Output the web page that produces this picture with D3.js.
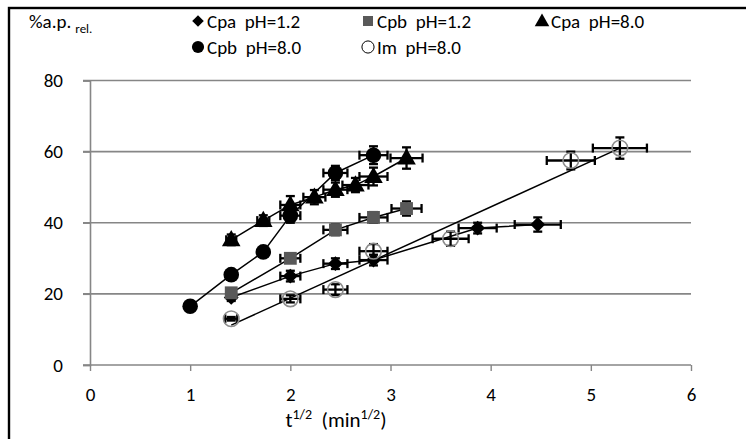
<!DOCTYPE html>
<html>
<head>
<meta charset="utf-8">
<script src="https://cdn.jsdelivr.net/npm/d3@7/dist/d3.min.js"></script>
<style>
  html, body { margin: 0; padding: 0; background: #fff; }
  svg text { font-family: Calibri, Carlito, Lato, sans-serif; fill: #000; }
</style>
</head>
<body>
<div id="chart"></div>
<script>
// values (x = t^1/2, y = %a.p. rel.)
var cpa12X = [1.41, 2.00, 2.45, 2.83, 3.87, 4.47];
var cpa12Y = [19.0, 25.0, 28.5, 29.5, 38.5, 39.5];
var cpa12Ex = [0, 0.10, 0.12, 0.14, 0.19, 0.23];
var cpa12Ey = [1.0, 1.5, 1.5, 1.5, 1.5, 2.0];

var cpb12X = [1.41, 2.00, 2.45, 2.83, 3.16];
var cpb12Y = [20.3, 30.0, 38.0, 41.5, 44.0];
var cpb12Ex = [0, 0.10, 0.12, 0.14, 0.15];
var cpb12Ey = [1.0, 1.0, 1.5, 1.5, 2.0];

var cpa80X = [1.41, 1.73, 2.00, 2.24, 2.45, 2.65, 2.83, 3.16];
var cpa80Y = [35.2, 40.6, 45.0, 47.2, 49.3, 50.6, 53.0, 58.2];
var cpa80Ex = [0.05, 0.06, 0.10, 0.11, 0.12, 0.13, 0.14, 0.16];
var cpa80Ey = [1.5, 1.5, 2.5, 2.0, 2.0, 2.0, 2.5, 3.0];

var cpb80X = [1.00, 1.41, 1.73, 2.00, 2.45, 2.83];
var cpb80Y = [16.5, 25.4, 31.8, 42.0, 54.0, 59.0];
var cpb80Ex = [0, 0, 0, 0.10, 0.12, 0.14];
var cpb80Ey = [0.5, 0.5, 0.5, 2.0, 2.0, 2.5];

var im80X = [1.41, 2.00, 2.45, 2.83, 3.60, 4.80, 5.29];
var im80Y = [13.0, 18.6, 21.2, 32.0, 35.5, 57.5, 61.0];
var im80Ex = [0.06, 0.10, 0.12, 0.14, 0.18, 0.24, 0.27];
var im80Ey = [0.5, 1.0, 1.5, 2.0, 2.0, 2.5, 3.0];
// the Im series is drawn with a single straight line
var im80LineX = [1.41, 5.29];
var im80LineY = [11.2, 61.0];

var xTicks = [0, 1, 2, 3, 4, 5, 6];
var yTicks = [0, 20, 40, 60, 80];

var legendLabels = ['Cpa\u00a0\u00a0pH=1.2', 'Cpb\u00a0\u00a0pH=1.2', 'Cpa\u00a0\u00a0pH=8.0',
		    'Cpb\u00a0\u00a0pH=8.0', 'Im\u00a0\u00a0pH=8.0'];

var W = 746, H = 439;
var FS = 19;

var svg = d3.select('#chart').append('svg')
    .attr('width', W)
    .attr('height', H);

// outer frame, cut off by the right and bottom edge
svg.append('rect')
    .attr('x', 9)
    .attr('y', 8)
    .attr('width', W)
    .attr('height', H)
    .attr('fill', 'none')
    .attr('stroke', '#000')
    .attr('stroke-width', 2.4);

var x = d3.scaleLinear().domain([0, 6]).range([90, 691]);
var y = d3.scaleLinear().domain([0, 80]).range([365, 80.5]);

// gridlines
svg.append('g').selectAll('line')
    .data(yTicks.filter(function(d) { return d > 0; }))
    .enter().append('line')
    .attr('x1', x(0) - 7)
    .attr('x2', x(6))
    .attr('y1', function(d) { return y(d); })
    .attr('y2', function(d) { return y(d); })
    .attr('stroke', '#868686')
    .attr('stroke-width', 1.6);

// axes
var yAxis = d3.axisLeft(y).tickValues(yTicks).tickSize(7).tickPadding(20);
var gy = svg.append('g')
    .attr('transform', 'translate(' + x(0) + ',0)')
    .call(yAxis);

var xAxis = d3.axisBottom(x).tickValues(xTicks).tickFormat(d3.format('d'))
    .tickSize(6).tickPadding(17);
var gx = svg.append('g')
    .attr('transform', 'translate(0,' + y(0) + ')')
    .call(xAxis);

[gx, gy].forEach(function(g) {
    g.select('.domain').attr('stroke', '#868686').attr('stroke-width', 1.6);
    g.selectAll('.tick line').attr('stroke', '#868686').attr('stroke-width', 1.4);
    g.selectAll('.tick text')
	.attr('font-size', FS)
	.attr('font-family', 'Calibri, Carlito, Lato, sans-serif')
	.attr('fill', '#000');
});
gx.select('.domain').attr('d', 'M' + (x(0) - 7) + ',0H' + x(6));

// axis titles
var xt = svg.append('text')
    .attr('x', 336)
    .attr('y', 427)
    .attr('text-anchor', 'middle')
    .attr('font-size', 21);
xt.append('tspan').text('t');
xt.append('tspan').attr('font-size', 14).attr('dy', -8).text('1/2');
xt.append('tspan').attr('dy', 8).text('\u00a0\u00a0(min');
xt.append('tspan').attr('font-size', 14).attr('dy', -8).text('1/2');
xt.append('tspan').attr('dy', 8).text(')');

var yt = svg.append('text')
    .attr('x', 29)
    .attr('y', 28)
    .attr('font-size', FS);
yt.append('tspan').text('%a.p.');
yt.append('tspan').attr('font-size', 13).attr('dx', 4).attr('dy', 5).text('rel.');

function marker(g, kind, cx, cy, scaleK) {
    var k = scaleK || 1;
    if (kind === 'diamond') {
	g.append('path')
	    .attr('d', d3.symbol().type(d3.symbolSquare).size(110 * k * k)())
	    .attr('transform', 'translate(' + cx + ',' + cy + ') rotate(45)')
	    .attr('fill', '#000');
    } else if (kind === 'square') {
	g.append('path')
	    .attr('d', d3.symbol().type(d3.symbolSquare).size(165 * k * k)())
	    .attr('transform', 'translate(' + cx + ',' + cy + ')')
	    .attr('fill', '#595959');
    } else if (kind === 'triangle') {
	g.append('path')
	    .attr('d', d3.symbol().type(d3.symbolTriangle).size(150 * k * k)())
	    .attr('transform', 'translate(' + cx + ',' + (cy + 1) + ')')
	    .attr('fill', '#000');
    } else if (kind === 'circle') {
	g.append('circle')
	    .attr('cx', cx).attr('cy', cy).attr('r', 7.8 * k)
	    .attr('fill', '#000');
    } else if (kind === 'open') {
	g.append('circle')
	    .attr('cx', cx).attr('cy', cy).attr('r', 7.8 * k)
	    .attr('fill', 'none')
	    .attr('stroke', k < 1 ? '#000' : '#8c8c8c')
	    .attr('stroke-width', k < 1 ? 1 : 1.6);
    }
}

var series = [
    {xs: cpa12X, ys: cpa12Y, ex: cpa12Ex, ey: cpa12Ey, kind: 'diamond'},
    {xs: cpb12X, ys: cpb12Y, ex: cpb12Ex, ey: cpb12Ey, kind: 'square'},
    {xs: cpa80X, ys: cpa80Y, ex: cpa80Ex, ey: cpa80Ey, kind: 'triangle'},
    {xs: cpb80X, ys: cpb80Y, ex: cpb80Ex, ey: cpb80Ey, kind: 'circle'},
    {xs: im80X, ys: im80Y, ex: im80Ex, ey: im80Ey, kind: 'open', lx: im80LineX, ly: im80LineY}
];

var line = d3.line()
    .x(function(d) { return x(d[0]); })
    .y(function(d) { return y(d[1]); });

var plot = svg.append('g').attr('class', 'plot');
var cap = 4.5;

series.forEach(function(s) {
    var g = plot.append('g');
    var lx = s.lx || s.xs, ly = s.ly || s.ys;
    g.append('path')
	.datum(d3.zip(lx, ly))
	.attr('d', line)
	.attr('fill', 'none')
	.attr('stroke', '#000')
	.attr('stroke-width', 1.5);

    var pts = d3.zip(s.xs, s.ys, s.ex, s.ey);
    // error bars
    pts.forEach(function(p) {
	var cx = x(p[0]), cy = y(p[1]);
	var eb = g.append('g')
	    .attr('stroke', '#000')
	    .attr('stroke-width', 2.3);
	if (p[2] > 0) {
	    var x0 = x(p[0] - p[2]), x1 = x(p[0] + p[2]);
	    eb.append('line').attr('x1', x0).attr('x2', x1).attr('y1', cy).attr('y2', cy);
	    eb.append('line').attr('x1', x0).attr('x2', x0).attr('y1', cy - cap).attr('y2', cy + cap);
	    eb.append('line').attr('x1', x1).attr('x2', x1).attr('y1', cy - cap).attr('y2', cy + cap);
	}
	var y0 = y(p[1] - p[3]), y1 = y(p[1] + p[3]);
	eb.append('line').attr('x1', cx).attr('x2', cx).attr('y1', y0).attr('y2', y1);
	eb.append('line').attr('x1', cx - cap).attr('x2', cx + cap).attr('y1', y0).attr('y2', y0);
	eb.append('line').attr('x1', cx - cap).attr('x2', cx + cap).attr('y1', y1).attr('y2', y1);
    });
    pts.forEach(function(p) {
	marker(g, s.kind, x(p[0]), y(p[1]));
    });
});

// legend
var legendPos = [[198, 21], [368, 21], [542, 21], [198, 47], [368, 47]];
var legend = svg.append('g').attr('class', 'legend');
series.forEach(function(s, i) {
    var lp = legendPos[i];
    marker(legend, s.kind, lp[0], lp[1], 0.78);
    legend.append('text')
	.attr('x', lp[0] + 9)
	.attr('y', lp[1])
	.attr('dy', '0.36em')
	.attr('font-size', FS)
	.text(legendLabels[i]);
});
</script>
</body>
</html>
